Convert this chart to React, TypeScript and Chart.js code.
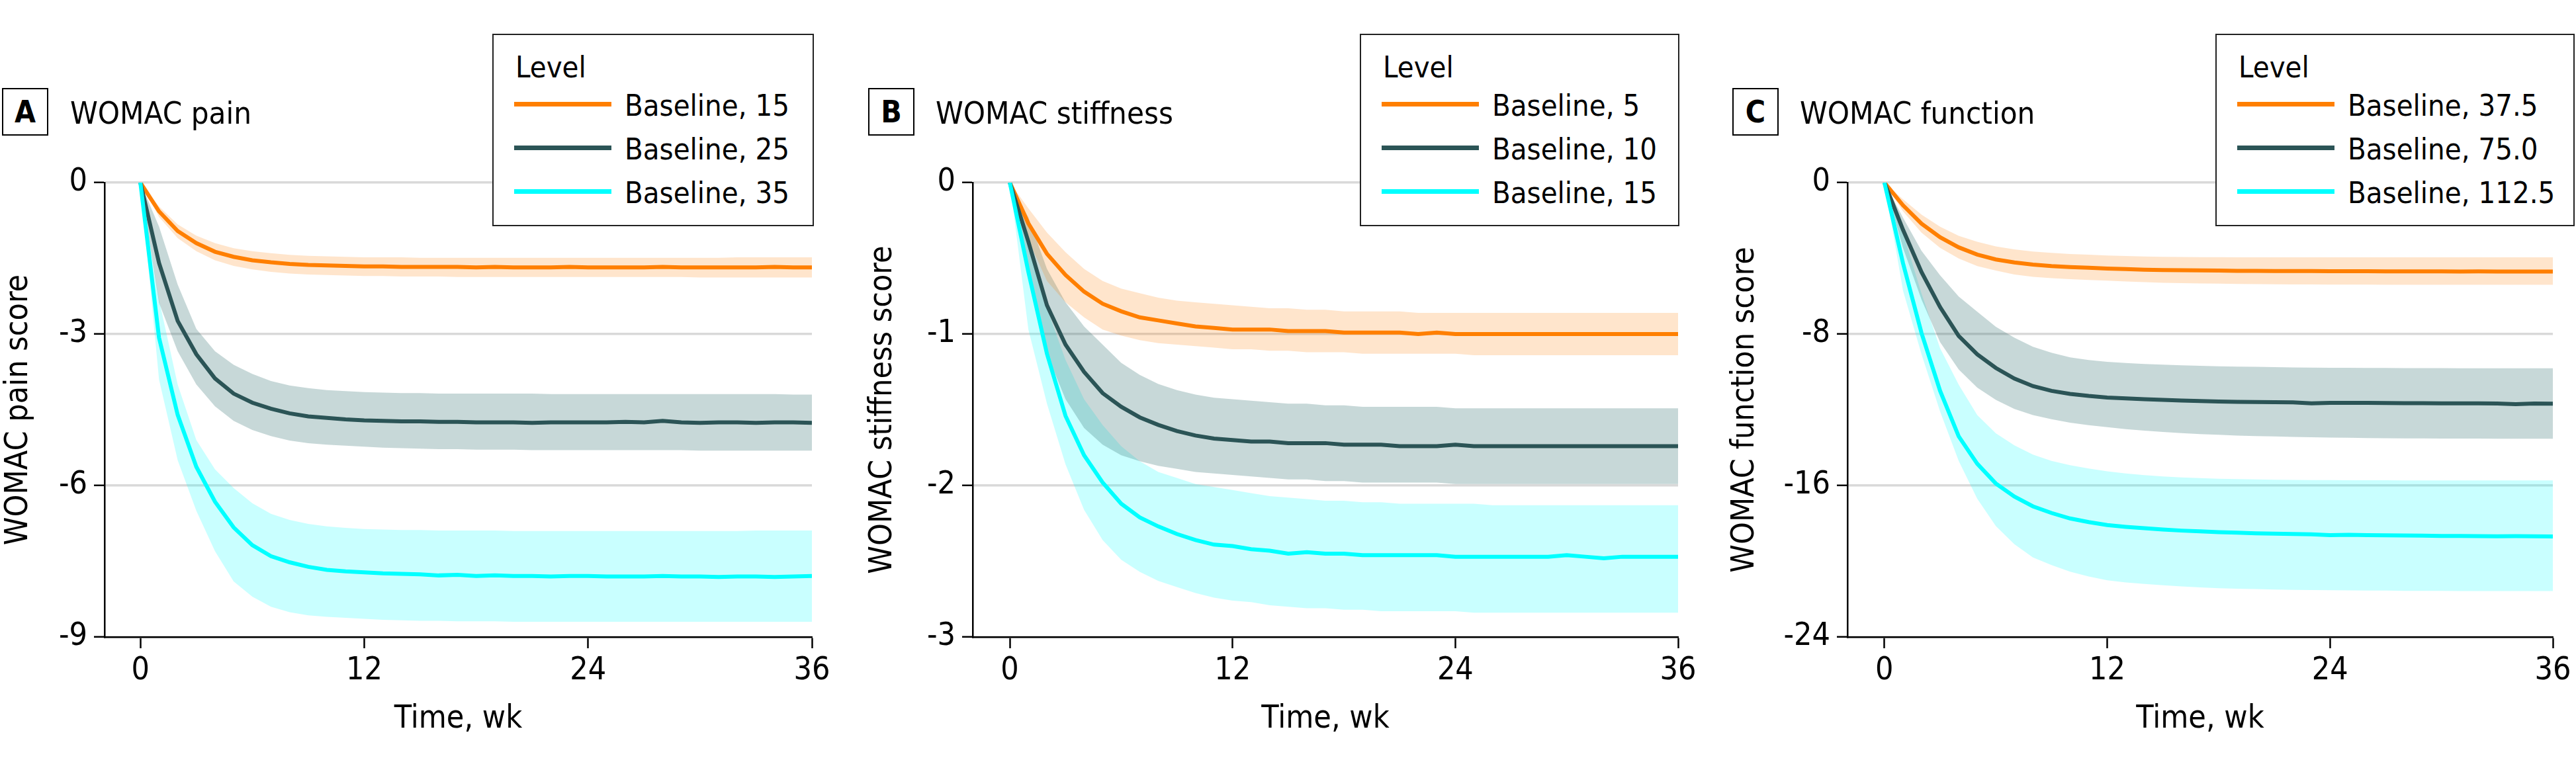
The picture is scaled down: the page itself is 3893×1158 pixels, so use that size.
import React, { useEffect, useRef } from 'react';
import { Chart, registerables } from 'chart.js';

Chart.register(...registerables);

const FONT = '"DejaVu Sans Condensed", "Liberation Sans Narrow", Roboto, sans-serif';

// ---------- data ----------
const weeks = [0, 1, 2, 3, 4, 5, 6, 7, 8, 9, 10, 11, 12, 13, 14, 15, 16, 17, 18, 19, 20, 21, 22, 23, 24, 25, 26, 27, 28, 29, 30, 31, 32, 33, 34, 35, 36];
const xTicks = [0, 12, 24, 36];

const painTicks = [0, -3, -6, -9];
const stiffTicks = [0, -1, -2, -3];
const funcTicks = [0, -8, -16, -24];

const painLabels = ['Baseline, 15', 'Baseline, 25', 'Baseline, 35'];
const stiffLabels = ['Baseline, 5', 'Baseline, 10', 'Baseline, 15'];
const funcLabels = ['Baseline, 37.5', 'Baseline, 75.0', 'Baseline, 112.5'];

// WOMAC pain
const pain15Mean = [0, -0.57, -0.96, -1.2, -1.37, -1.47, -1.54, -1.58, -1.61, -1.63, -1.64, -1.65, -1.66,
  -1.66, -1.67, -1.67, -1.67, -1.67, -1.68, -1.67, -1.68, -1.68, -1.68, -1.67, -1.68,
  -1.68, -1.68, -1.68, -1.67, -1.68, -1.68, -1.68, -1.68, -1.68, -1.67, -1.68, -1.68];
const pain15Hi = [0, -0.47, -0.83, -1.05, -1.2, -1.3, -1.36, -1.4, -1.43, -1.45, -1.46, -1.47, -1.48,
  -1.48, -1.48, -1.49, -1.49, -1.49, -1.49, -1.49, -1.49, -1.49, -1.49, -1.49, -1.49,
  -1.49, -1.49, -1.49, -1.49, -1.49, -1.49, -1.49, -1.48, -1.48, -1.48, -1.48, -1.48];
const pain15Lo = [0, -0.68, -1.1, -1.36, -1.54, -1.65, -1.72, -1.77, -1.8, -1.82, -1.83, -1.84, -1.85,
  -1.85, -1.86, -1.86, -1.86, -1.87, -1.87, -1.87, -1.87, -1.87, -1.87, -1.87, -1.87,
  -1.87, -1.87, -1.87, -1.87, -1.87, -1.88, -1.88, -1.88, -1.88, -1.88, -1.88, -1.88];

const pain25Mean = [0, -1.59, -2.74, -3.4, -3.88, -4.18, -4.36, -4.48, -4.57, -4.63, -4.66, -4.69, -4.71,
  -4.72, -4.73, -4.73, -4.74, -4.74, -4.75, -4.75, -4.75, -4.76, -4.75, -4.75, -4.75,
  -4.75, -4.74, -4.75, -4.72, -4.75, -4.76, -4.75, -4.75, -4.76, -4.75, -4.75, -4.76];
const pain25Hi = [0, -0.87, -2.02, -2.9, -3.34, -3.61, -3.79, -3.93, -4.02, -4.07, -4.11, -4.13, -4.15,
  -4.16, -4.17, -4.17, -4.18, -4.18, -4.18, -4.18, -4.18, -4.18, -4.19, -4.19, -4.19,
  -4.19, -4.19, -4.19, -4.19, -4.19, -4.19, -4.19, -4.19, -4.19, -4.19, -4.2, -4.2];
const pain25Lo = [0, -2.38, -3.34, -4.0, -4.43, -4.72, -4.9, -5.02, -5.11, -5.16, -5.19, -5.21, -5.23,
  -5.25, -5.26, -5.27, -5.28, -5.28, -5.29, -5.29, -5.29, -5.3, -5.3, -5.3, -5.3,
  -5.3, -5.3, -5.3, -5.3, -5.3, -5.31, -5.31, -5.31, -5.31, -5.31, -5.31, -5.31];

const pain35Mean = [0, -3.07, -4.6, -5.63, -6.32, -6.83, -7.18, -7.4, -7.52, -7.61, -7.67, -7.7, -7.72,
  -7.74, -7.75, -7.76, -7.78, -7.77, -7.79, -7.78, -7.79, -7.79, -7.8, -7.79, -7.79,
  -7.8, -7.8, -7.8, -7.79, -7.8, -7.8, -7.81, -7.8, -7.8, -7.81, -7.8, -7.79];
const pain35Hi = [0, -2.32, -4.0, -5.1, -5.68, -6.05, -6.35, -6.56, -6.68, -6.76, -6.81, -6.84, -6.86,
  -6.87, -6.88, -6.88, -6.89, -6.89, -6.89, -6.89, -6.9, -6.9, -6.9, -6.9, -6.9,
  -6.9, -6.9, -6.9, -6.9, -6.9, -6.9, -6.9, -6.9, -6.89, -6.89, -6.89, -6.89];
const pain35Lo = [0, -3.9, -5.5, -6.5, -7.3, -7.9, -8.2, -8.4, -8.51, -8.57, -8.6, -8.62, -8.64,
  -8.66, -8.67, -8.68, -8.68, -8.69, -8.69, -8.69, -8.7, -8.7, -8.7, -8.7, -8.7,
  -8.7, -8.7, -8.7, -8.7, -8.7, -8.7, -8.7, -8.7, -8.7, -8.7, -8.7, -8.7];

// WOMAC stiffness
const stiff5Mean = [0, -0.27, -0.47, -0.61, -0.72, -0.8, -0.85, -0.89, -0.91, -0.93, -0.95, -0.96, -0.97,
  -0.97, -0.97, -0.98, -0.98, -0.98, -0.99, -0.99, -0.99, -0.99, -1.0, -0.99, -1.0,
  -1.0, -1.0, -1.0, -1.0, -1.0, -1.0, -1.0, -1.0, -1.0, -1.0, -1.0, -1.0];
const stiff5Hi = [0, -0.17, -0.33, -0.46, -0.57, -0.65, -0.7, -0.73, -0.76, -0.78, -0.79, -0.8, -0.81,
  -0.82, -0.83, -0.83, -0.84, -0.84, -0.85, -0.85, -0.85, -0.85, -0.86, -0.86, -0.86,
  -0.86, -0.86, -0.86, -0.86, -0.86, -0.86, -0.86, -0.86, -0.86, -0.86, -0.86, -0.86];
const stiff5Lo = [0, -0.38, -0.65, -0.79, -0.89, -0.97, -1.01, -1.04, -1.06, -1.07, -1.08, -1.09, -1.1,
  -1.1, -1.11, -1.11, -1.12, -1.12, -1.12, -1.13, -1.13, -1.13, -1.13, -1.13, -1.13,
  -1.14, -1.14, -1.14, -1.14, -1.14, -1.14, -1.14, -1.14, -1.14, -1.14, -1.14, -1.14];

const stiff10Mean = [0, -0.39, -0.81, -1.07, -1.25, -1.39, -1.48, -1.55, -1.6, -1.64, -1.67, -1.69, -1.7,
  -1.71, -1.71, -1.72, -1.72, -1.72, -1.73, -1.73, -1.73, -1.74, -1.74, -1.74, -1.73,
  -1.74, -1.74, -1.74, -1.74, -1.74, -1.74, -1.74, -1.74, -1.74, -1.74, -1.74, -1.74];
const stiff10Hi = [0, -0.23, -0.57, -0.79, -0.95, -1.07, -1.19, -1.27, -1.33, -1.37, -1.4, -1.42, -1.43,
  -1.44, -1.45, -1.46, -1.46, -1.47, -1.47, -1.48, -1.48, -1.48, -1.48, -1.48, -1.49,
  -1.49, -1.49, -1.49, -1.49, -1.49, -1.49, -1.49, -1.49, -1.49, -1.49, -1.49, -1.49];
const stiff10Lo = [0, -0.63, -1.13, -1.43, -1.62, -1.73, -1.8, -1.84, -1.87, -1.89, -1.91, -1.92, -1.93,
  -1.94, -1.95, -1.96, -1.96, -1.97, -1.97, -1.98, -1.98, -1.98, -1.98, -1.98, -1.99,
  -1.99, -1.99, -1.99, -1.99, -1.99, -1.99, -1.99, -1.99, -1.99, -1.99, -1.99, -1.99];

const stiff15Mean = [0, -0.59, -1.13, -1.54, -1.8, -1.98, -2.12, -2.21, -2.27, -2.32, -2.36, -2.39, -2.4,
  -2.42, -2.43, -2.45, -2.44, -2.45, -2.45, -2.46, -2.46, -2.46, -2.46, -2.46, -2.47,
  -2.47, -2.47, -2.47, -2.47, -2.47, -2.46, -2.47, -2.48, -2.47, -2.47, -2.47, -2.47];
const stiff15Hi = [0, -0.39, -0.83, -1.17, -1.43, -1.6, -1.74, -1.84, -1.91, -1.95, -1.99, -2.01, -2.03,
  -2.05, -2.07, -2.08, -2.09, -2.1, -2.1, -2.11, -2.11, -2.12, -2.12, -2.12, -2.12,
  -2.12, -2.13, -2.13, -2.13, -2.13, -2.13, -2.13, -2.13, -2.13, -2.13, -2.13, -2.13];
const stiff15Lo = [0, -0.97, -1.46, -1.86, -2.16, -2.36, -2.49, -2.57, -2.63, -2.67, -2.71, -2.74, -2.76,
  -2.77, -2.79, -2.8, -2.81, -2.81, -2.82, -2.82, -2.83, -2.83, -2.83, -2.83, -2.83,
  -2.84, -2.84, -2.84, -2.84, -2.84, -2.84, -2.84, -2.84, -2.84, -2.84, -2.84, -2.84];

// WOMAC function
const func375Mean = [0, -1.2, -2.17, -2.89, -3.42, -3.8, -4.06, -4.22, -4.33, -4.41, -4.46, -4.5, -4.54,
  -4.57, -4.6, -4.62, -4.63, -4.64, -4.65, -4.66, -4.66, -4.67, -4.67, -4.67, -4.68,
  -4.68, -4.68, -4.69, -4.69, -4.69, -4.69, -4.7, -4.69, -4.7, -4.7, -4.7, -4.7];
const func375Hi = [0, -0.88, -1.69, -2.33, -2.81, -3.13, -3.37, -3.53, -3.64, -3.71, -3.77, -3.81, -3.85,
  -3.88, -3.9, -3.92, -3.93, -3.94, -3.94, -3.95, -3.95, -3.95, -3.95, -3.95, -3.95,
  -3.95, -3.95, -3.95, -3.95, -3.95, -3.95, -3.95, -3.95, -3.95, -3.95, -3.95, -3.95];
const func375Lo = [0, -1.52, -2.65, -3.45, -4.01, -4.41, -4.65, -4.86, -4.98, -5.05, -5.1, -5.14, -5.18,
  -5.22, -5.26, -5.29, -5.31, -5.33, -5.34, -5.35, -5.36, -5.37, -5.38, -5.38, -5.39,
  -5.39, -5.39, -5.4, -5.4, -5.4, -5.4, -5.4, -5.4, -5.4, -5.4, -5.4, -5.4];

const func75Mean = [0, -2.49, -4.73, -6.58, -8.1, -9.07, -9.79, -10.35, -10.75, -11.0, -11.16, -11.27, -11.35,
  -11.4, -11.44, -11.48, -11.51, -11.54, -11.56, -11.58, -11.59, -11.6, -11.61, -11.66, -11.63,
  -11.63, -11.63, -11.64, -11.65, -11.65, -11.66, -11.66, -11.66, -11.67, -11.7, -11.67, -11.68];
const func75Hi = [0, -1.85, -3.61, -4.9, -6.02, -6.82, -7.62, -8.19, -8.67, -8.99, -9.23, -9.37, -9.47,
  -9.53, -9.58, -9.62, -9.65, -9.68, -9.7, -9.72, -9.73, -9.75, -9.76, -9.77, -9.78,
  -9.78, -9.79, -9.79, -9.8, -9.8, -9.8, -9.81, -9.81, -9.81, -9.81, -9.81, -9.81];
const func75Lo = [0, -3.45, -6.18, -8.43, -9.87, -10.83, -11.48, -11.96, -12.28, -12.5, -12.68, -12.81, -12.92,
  -13.02, -13.1, -13.17, -13.23, -13.28, -13.32, -13.36, -13.39, -13.41, -13.43, -13.45, -13.47,
  -13.48, -13.49, -13.5, -13.51, -13.51, -13.52, -13.52, -13.52, -13.53, -13.53, -13.53, -13.53];

const func1125Mean = [0, -4.25, -7.95, -11.0, -13.4, -14.85, -15.89, -16.58, -17.1, -17.45, -17.74, -17.93, -18.09,
  -18.18, -18.25, -18.32, -18.38, -18.42, -18.46, -18.49, -18.52, -18.54, -18.56, -18.58, -18.62,
  -18.6, -18.62, -18.63, -18.64, -18.65, -18.66, -18.66, -18.67, -18.68, -18.67, -18.68, -18.69];
const func1125Hi = [0, -2.65, -5.86, -8.75, -10.67, -12.28, -13.24, -13.88, -14.37, -14.7, -14.93, -15.1, -15.25,
  -15.36, -15.45, -15.52, -15.57, -15.61, -15.64, -15.66, -15.68, -15.69, -15.7, -15.71, -15.71,
  -15.72, -15.72, -15.72, -15.73, -15.73, -15.73, -15.73, -15.73, -15.73, -15.73, -15.73, -15.73];
const func1125Lo = [0, -5.7, -9.07, -12.1, -14.7, -16.7, -18.14, -19.1, -19.8, -20.2, -20.55, -20.8, -21.0,
  -21.12, -21.2, -21.27, -21.33, -21.38, -21.42, -21.45, -21.47, -21.49, -21.51, -21.52, -21.53,
  -21.54, -21.55, -21.55, -21.56, -21.56, -21.56, -21.57, -21.57, -21.57, -21.57, -21.57, -21.57];

// ---------- styles ----------
const LINE_COLORS = ['#FF7F00', '#2B5456', '#00FFFF'];
const BAND_COLORS = ['rgba(255,127,0,0.2)', 'rgba(47,110,110,0.27)', 'rgba(0,255,255,0.21)'];

type Series = { label: string; mean: number[]; lo: number[]; hi: number[] };
type Panel = {
  letter: string; title: string; yTitle: string; yTicks: number[]; yMin: number; xMin: number;
  left: number; width: number; yW: number; rightPad: number;
  boxLeft: number; titleLeft: number; legendLeft: number; legendWidth: number;
  series: Series[];
};

const panels: Panel[] = [
  {
    letter: 'A', title: 'WOMAC pain', yTitle: 'WOMAC pain score', yTicks: painTicks, yMin: -9, xMin: -1.92,
    left: 0, width: 1300, yW: 158, rightPad: 73, boxLeft: 3, titleLeft: 106, legendLeft: 744, legendWidth: 486,
    series: [
      { label: painLabels[0], mean: pain15Mean, lo: pain15Lo, hi: pain15Hi },
      { label: painLabels[1], mean: pain25Mean, lo: pain25Lo, hi: pain25Hi },
      { label: painLabels[2], mean: pain35Mean, lo: pain35Lo, hi: pain35Hi },
    ],
  },
  {
    letter: 'B', title: 'WOMAC stiffness', yTitle: 'WOMAC stiffness score', yTicks: stiffTicks, yMin: -3, xMin: -2.0,
    left: 1306, width: 1310, yW: 164, rightPad: 80, boxLeft: 1312, titleLeft: 1414, legendLeft: 2055, legendWidth: 483,
    series: [
      { label: stiffLabels[0], mean: stiff5Mean, lo: stiff5Lo, hi: stiff5Hi },
      { label: stiffLabels[1], mean: stiff10Mean, lo: stiff10Lo, hi: stiff10Hi },
      { label: stiffLabels[2], mean: stiff15Mean, lo: stiff15Lo, hi: stiff15Hi },
    ],
  },
  {
    letter: 'C', title: 'WOMAC function', yTitle: 'WOMAC function score', yTicks: funcTicks, yMin: -24, xMin: -1.99,
    left: 2609, width: 1284, yW: 183, rightPad: 35, boxLeft: 2618, titleLeft: 2720, legendLeft: 3348, legendWidth: 543,
    series: [
      { label: funcLabels[0], mean: func375Mean, lo: func375Lo, hi: func375Hi },
      { label: funcLabels[1], mean: func75Mean, lo: func75Lo, hi: func75Hi },
      { label: funcLabels[2], mean: func1125Mean, lo: func1125Lo, hi: func1125Hi },
    ],
  },
];

const H = 1158;
const PLOT_TOP = 276;
const PAD_BOTTOM = 46;
const X_SCALE_H = 149;

function PanelChart({ p }: { p: Panel }) {
  const ref = useRef<HTMLCanvasElement | null>(null);
  useEffect(() => {
    const canvas = ref.current;
    if (!canvas) return;
    const pts = (arr: number[]) => weeks.map((w, i) => ({ x: w, y: arr[i] }));
    const datasets: any[] = [];
    [2, 1, 0].forEach((i) => {
      const s = p.series[i];
      datasets.push({
        label: s.label, data: pts(s.mean), borderColor: LINE_COLORS[i], borderWidth: 6,
        pointRadius: 0, fill: false, order: 0, tension: 0,
      });
    });
    p.series.forEach((s, i) => {
      const hiIndex = datasets.length;
      datasets.push({
        label: s.label + ' upper', data: pts(s.hi), borderColor: 'rgba(0,0,0,0)', borderWidth: 1,
        pointRadius: 0, fill: false, order: 1, tension: 0,
      });
      datasets.push({
        label: s.label + ' lower', data: pts(s.lo), borderColor: 'rgba(0,0,0,0)', borderWidth: 1,
        backgroundColor: BAND_COLORS[i], pointRadius: 0, fill: hiIndex, order: 1, tension: 0,
      });
    });

    const tickFont = { family: FONT, size: 48 };
    const titleFont = { family: FONT, size: 48, lineHeight: 1 };

    const chart = new Chart(canvas, {
      type: 'line',
      data: { datasets },
      options: {
        animation: false,
        responsive: false,
        maintainAspectRatio: false,
        events: [],
        layout: { padding: { left: 0, right: p.rightPad, top: PLOT_TOP, bottom: PAD_BOTTOM } },
        plugins: { legend: { display: false }, title: { display: false }, tooltip: { enabled: false } },
        scales: {
          x: {
            type: 'linear', min: p.xMin, max: 36,
            afterBuildTicks: (s: any) => { s.ticks = xTicks.map((v) => ({ value: v })); },
            afterFit: (s: any) => { s.height = X_SCALE_H; },
            grid: { drawOnChartArea: false, drawTicks: true, tickLength: 17, tickWidth: 2.5, tickColor: '#000' },
            border: { display: true, color: '#000', width: 2.5 },
            ticks: { color: '#000', font: tickFont, padding: 6, maxRotation: 0, autoSkip: false, callback: (v: any) => String(v) },
            title: { display: true, text: 'Time, wk', color: '#000', font: titleFont, padding: 0 },
          },
          y: {
            type: 'linear', min: p.yMin, max: 0,
            afterBuildTicks: (s: any) => { s.ticks = p.yTicks.map((v) => ({ value: v })); },
            afterFit: (s: any) => { s.width = p.yW; },
            grid: { color: '#d9d9d9', lineWidth: 3.5, drawTicks: true, tickLength: 16, tickWidth: 2.5, tickColor: '#000' },
            border: { display: true, color: '#000', width: 2.5 },
            ticks: { color: '#000', font: tickFont, padding: 10, autoSkip: false, callback: (v: any) => String(v) },
            title: { display: true, text: p.yTitle, color: '#000', font: titleFont, padding: { top: 5, bottom: 0 } },
          },
        },
      } as any,
    });
    return () => chart.destroy();
  }, [p]);

  return (
    <canvas
      ref={ref}
      width={p.width}
      height={H}
      style={{ position: 'absolute', left: p.left, top: 0, width: p.width, height: H }}
    />
  );
}

const textBase: React.CSSProperties = {
  position: 'absolute', whiteSpace: 'nowrap', lineHeight: 1, margin: 0, color: '#000', fontFamily: FONT,
};

const TITLE_SIZE = 47;
const LEG_SIZE = 45;

function PanelOverlay({ p }: { p: Panel }) {
  const L = p.legendLeft;
  const rowBaselines = [175, 241, 307];
  return (
    <>
      <div style={{
        position: 'absolute', left: p.boxLeft, top: 133, width: 70, height: 72, boxSizing: 'border-box',
        border: '2.5px solid #000', display: 'flex', alignItems: 'center', justifyContent: 'center',
        fontFamily: FONT, fontWeight: 700, fontSize: 46, lineHeight: 1, background: '#fff',
      }}>{p.letter}</div>
      <div style={{ ...textBase, left: p.titleLeft, top: 187 - 0.846 * TITLE_SIZE, fontSize: TITLE_SIZE }}>{p.title}</div>
      <div style={{
        position: 'absolute', left: L, top: 51, width: p.legendWidth, height: 291, boxSizing: 'border-box',
        border: '2.5px solid #222', background: '#fff',
      }} />
      <div style={{ ...textBase, left: L + 35, top: 117 - 0.846 * LEG_SIZE, fontSize: LEG_SIZE }}>Level</div>
      {p.series.map((s, i) => (
        <React.Fragment key={s.label}>
          <div style={{
            position: 'absolute', left: L + 33, top: rowBaselines[i] - 18 - 3.5, width: 147, height: 7,
            background: LINE_COLORS[i],
          }} />
          <div style={{ ...textBase, left: L + 200, top: rowBaselines[i] - 0.846 * LEG_SIZE, fontSize: LEG_SIZE }}>{s.label}</div>
        </React.Fragment>
      ))}
    </>
  );
}

export default function App() {
  return (
    <div style={{
      position: 'absolute', left: 0, top: 0, width: 3893, height: H, background: '#fff', overflow: 'hidden',
    }}>
      {panels.map((p) => <PanelChart key={'c' + p.letter} p={p} />)}
      {panels.map((p) => <PanelOverlay key={'o' + p.letter} p={p} />)}
    </div>
  );
}
